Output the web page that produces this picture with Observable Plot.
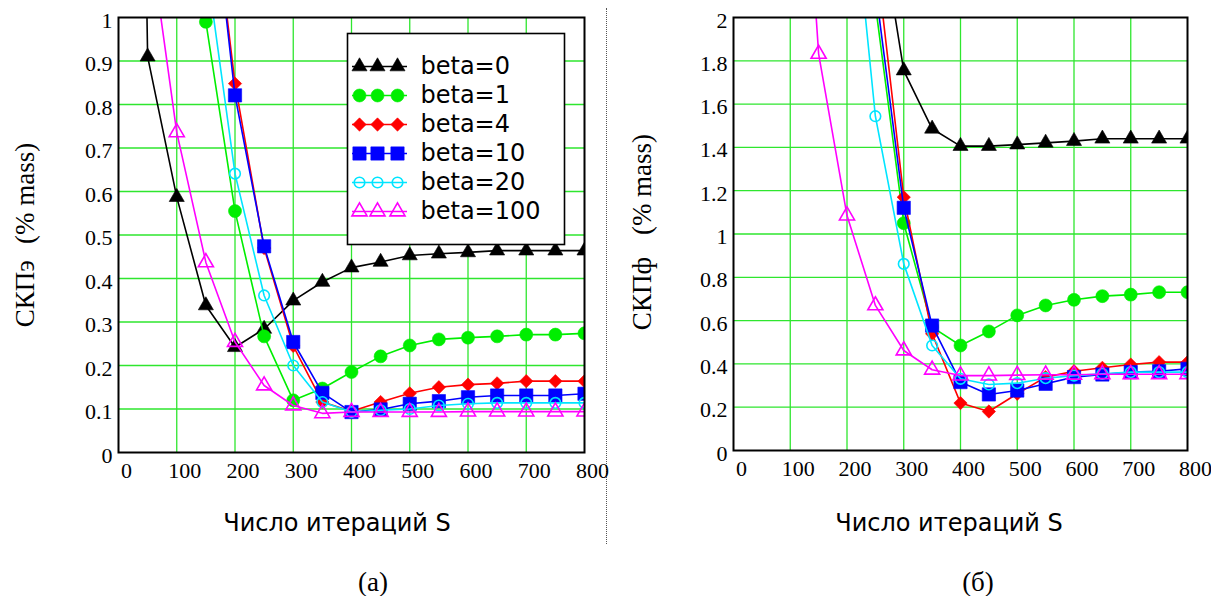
<!DOCTYPE html>
<html><head><meta charset="utf-8">
<script src="https://cdn.jsdelivr.net/npm/d3@7"></script>
<script src="https://cdn.jsdelivr.net/npm/@observablehq/plot@0.6"></script>
<style>
body{margin:0;background:#fff;}
#root{position:relative;width:1211px;height:596px;font-family:"Liberation Serif","Tinos","Times New Roman","Noto Serif","DejaVu Serif",serif;color:#000;overflow:hidden;background:#fff}
.abs{position:absolute;white-space:pre;line-height:1}
.c{transform:translate(-50%,-50%)}
.rot{transform:translate(-50%,-50%) rotate(-90deg)}
.wide{font-family:"DejaVu Sans","Liberation Serif",serif}
#sep{position:absolute;left:606px;top:8px;height:536px;border-left:1px dotted #555}
</style></head><body><div id="root"><div id="sep"></div></div>
<script>
// ---------- data ----------
const iterations = [0,50,100,150,200,250,300,350,400,450,500,550,600,650,700,750,800];
const seriesNames = ["beta=0","beta=1","beta=4","beta=10","beta=20","beta=100"];
const seriesColors = ["#000000","#00ee00","#ff0000","#0000ff","#00e5ff","#ff00ff"];
const seriesSymbols = ["triangle","circle","diamond2","square","circle","triangle"];
const seriesFilled = [true,true,true,true,false,false];
const seriesRadius = [5.6,6.5,6.0,7.5,5.3,5.6];

// (a) СКПэ
const leftBeta0   = [5.0,0.91,0.587,0.338,0.242,0.284,0.349,0.392,0.425,0.438,0.453,0.457,0.46,0.464,0.464,0.464,0.464];
const leftBeta1   = [15,9,4,0.99,0.555,0.267,0.12,0.147,0.185,0.221,0.246,0.26,0.264,0.267,0.271,0.271,0.274];
const leftBeta4   = [10,5,2.6,1.41,0.848,0.47,0.245,0.116,0.095,0.116,0.136,0.15,0.156,0.159,0.164,0.164,0.164];
const leftBeta10  = [10,5,2.6,1.42,0.821,0.474,0.254,0.137,0.093,0.099,0.112,0.118,0.127,0.131,0.131,0.131,0.135];
const leftBeta20  = [8,4,2,1.13,0.641,0.361,0.2,0.116,0.093,0.097,0.1,0.108,0.112,0.114,0.114,0.114,0.114];
const leftBeta100 = [3,1.22,0.736,0.437,0.254,0.154,0.108,0.09,0.093,0.093,0.093,0.093,0.094,0.094,0.094,0.094,0.094];

// (б) СКПф
const rightBeta0   = [8,6,5,4,3.3,2.57,1.755,1.486,1.406,1.406,1.413,1.421,1.429,1.44,1.44,1.44,1.44];
const rightBeta1   = [12,9,6,4,3,2.06,1.05,0.57,0.485,0.55,0.624,0.67,0.696,0.713,0.72,0.731,0.731];
const rightBeta4   = [12,9,6,4.5,3.4,2.31,1.17,0.539,0.219,0.18,0.262,0.339,0.366,0.382,0.397,0.408,0.408];
const rightBeta10  = [12,9,6,4.4,3.3,2.14,1.121,0.577,0.316,0.259,0.277,0.308,0.339,0.351,0.362,0.366,0.377];
const rightBeta20  = [10,7,5,3.8,2.85,1.544,0.862,0.485,0.331,0.305,0.311,0.334,0.346,0.354,0.362,0.362,0.362];
const rightBeta100 = [9,6,3.8,1.832,1.085,0.67,0.462,0.373,0.346,0.346,0.348,0.35,0.35,0.352,0.352,0.352,0.352];

const xTicks = [0,100,200,300,400,500,600,700,800];
const yTicksLeft = [0,0.1,0.2,0.3,0.4,0.5,0.6,0.7,0.8,0.9,1];
const yTicksRight = [0,0.2,0.4,0.6,0.8,1,1.2,1.4,1.6,1.8,2];

const xTitle = "Число итераций S";
const yTitleLeft = ["СКПэ","(% mass)"];
const yTitleRight = ["СКПф","(% mass)"];
const captions = ["(а)","(б)"];

// ---------- helpers ----------
const FONT = '"Liberation Serif","Tinos","Times New Roman","Noto Serif","DejaVu Serif",serif';
const WIDE = '"DejaVu Sans","Liberation Serif",serif';
const GRID = "#2ee62e";
const root = document.getElementById("root");

function tidy(valueLists){
  const rows = [];
  valueLists.forEach((vals,i)=>vals.forEach((v,j)=>rows.push({s:seriesNames[i],x:iterations[j],y:v})));
  return rows;
}
const fmt = d => String(+d.toFixed(1));

function seriesMarks(rows){
  const marks = [];
  seriesNames.forEach((name,i)=>{
    const data = rows.filter(r=>r.s===name);
    marks.push(Plot.line(data,{x:"x",y:"y",stroke:seriesColors[i],strokeWidth:1.6,clip:true}));
    marks.push(Plot.dot(data,{x:"x",y:"y",symbol:seriesSymbols[i],r:seriesRadius[i],
      fill:seriesFilled[i]?seriesColors[i]:"none",stroke:seriesColors[i],
      strokeWidth:seriesFilled[i]?0.6:1.6,clip:true}));
  });
  return marks;
}

function chart(valueLists,yDomain,yTicks,opts){
  const rows = tidy(valueLists);
  return Plot.plot({
    width:opts.width,height:500,
    marginLeft:opts.ml,marginRight:opts.mr,marginTop:17,marginBottom:opts.mb,
    x:{domain:[0,800],label:null},
    y:{domain:yDomain,label:null},
    style:{fontFamily:FONT,fontSize:"22px",background:"transparent",overflow:"visible",color:"#000"},
    marks:[
      Plot.gridX(xTicks.slice(1,-1),{stroke:GRID,strokeOpacity:1,strokeWidth:1.3}),
      Plot.gridY(yTicks.slice(1,-1),{stroke:GRID,strokeOpacity:1,strokeWidth:1.3}),
      Plot.axisX(xTicks,{tickSize:0,tickPadding:10,dx:8,fontSize:22,tickFormat:d=>String(d),label:null}),
      Plot.axisY(yTicks,{tickSize:0,tickPadding:6,dy:3,fontSize:22,tickFormat:fmt,label:null}),
      ...seriesMarks(rows),
      Plot.frame({stroke:"#000",strokeWidth:2})
    ]
  });
}

function place(el,left,top){
  const w = document.createElement("div");
  w.style.position="absolute";w.style.left=left+"px";w.style.top=top+"px";
  w.appendChild(el);root.appendChild(w);return w;
}
function text(str,x,y,cls,style){
  const d=document.createElement("div");d.className="abs "+cls;d.textContent=str;
  d.style.left=x+"px";d.style.top=y+"px";Object.assign(d.style,style||{});root.appendChild(d);return d;
}

// ---------- charts ----------
place(chart([leftBeta0,leftBeta1,leftBeta4,leftBeta10,leftBeta20,leftBeta100],[0,1],yTicksLeft,
  {width:606,ml:118,mr:22,mb:48}),0,0);
place(chart([rightBeta0,rightBeta1,rightBeta4,rightBeta10,rightBeta20,rightBeta100],[0,2],yTicksRight,
  {width:605,ml:127,mr:24,mb:50}),606,0);

// ---------- legend ----------
const legendSampleX = [12,30,50];
const legendMarks = [];
seriesNames.forEach((name,i)=>{
  legendMarks.push(Plot.ruleY([name],{y:d=>d,x1:5,x2:60,stroke:seriesColors[i],strokeWidth:1.6}));
  legendMarks.push(Plot.dot(legendSampleX.map(x=>({x,name})),{x:"x",y:"name",symbol:seriesSymbols[i],r:seriesRadius[i],
    fill:seriesFilled[i]?seriesColors[i]:"none",stroke:seriesColors[i],strokeWidth:seriesFilled[i]?0.6:1.6}));
  legendMarks.push(Plot.text([name],{x:73,y:d=>d,text:d=>d,textAnchor:"start",lineAnchor:"middle",fontSize:24,fontFamily:WIDE}));
});
const legend = Plot.plot({
  width:217,height:211,margin:0,
  x:{type:"identity",axis:null},
  y:{type:"point",domain:seriesNames,range:[18,192],axis:null},
  style:{fontFamily:WIDE,background:"#fff",color:"#000",overflow:"visible"},
  marks:[...legendMarks,Plot.frame({stroke:"#000",strokeWidth:1.6})]
});
place(legend,347,33);

// ---------- titles ----------
function yTitle(parts,x,y,gap){
  const d=document.createElement("div");d.className="abs rot";
  d.style.left=x+"px";d.style.top=y+"px";d.style.fontSize="27px";
  d.innerHTML=`<span>${parts[0]}</span><span style="display:inline-block;width:${gap}px"></span><span>${parts[1]}</span>`;
  root.appendChild(d);
}
yTitle(yTitleLeft,25,235,16);
yTitle(yTitleRight,642,232,22);
text(xTitle,337,523,"c wide",{fontSize:"24px"});
text(xTitle,949,523,"c wide",{fontSize:"24px"});
text(captions[0],373,582,"c",{fontSize:"27px"});
text(captions[1],978,582,"c",{fontSize:"27px"});
</script>
</body></html>
